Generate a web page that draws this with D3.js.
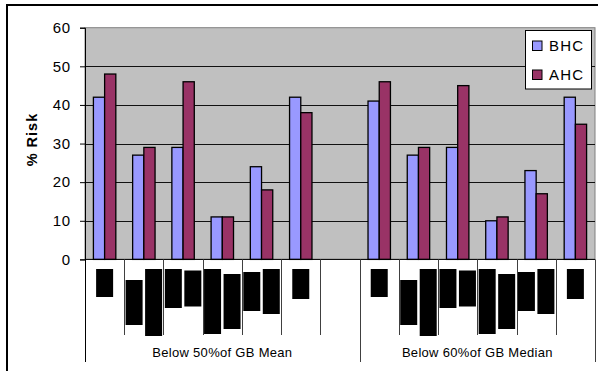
<!DOCTYPE html>
<html>
<head>
<meta charset="utf-8">
<script src="https://cdn.jsdelivr.net/npm/d3@7"></script>
<style>
  html, body { margin: 0; padding: 0; background: #fff; }
  svg { display: block; font-family: "Liberation Sans", Arial, sans-serif; }
</style>
</head>
<body>
<svg id="chart" width="598" height="371"></svg>
<script>
// ---- data ----
const series = ["BHC", "AHC"];
const groups = ["Below 50%of GB Mean", "Below 60%of GB Median"];
const categoryIds = ["c1", "c2", "c3", "c4", "c5", "c6"];
const bhcMean   = [42, 27, 29, 11, 24, 42];
const ahcMean   = [48, 29, 46, 11, 18, 38];
const bhcMedian = [41, 27, 29, 10, 23, 42];
const ahcMedian = [46, 29, 45, 11, 17, 35];
const yTicks = [0, 10, 20, 30, 40, 50, 60];
// obscured category labels (rendered as solid black blocks in the source): line lengths per label
const categoryLabelLines = [[28], [45, 67], [39, 36], [65, 55], [39, 45], [30]];

const colors = { BHC: "#9999FF", AHC: "#993366" };

// ---- layout ----
const svg = d3.select("#chart");
const plot = { left: 85, right: 595, top: 27.7, bottom: 259.4 };

// slots: group1 (6 cats) + blank + group2 (6 cats)
const slots = [];
categoryIds.forEach((c, i) => slots.push({ key: "g0-" + c, group: 0, ci: i }));
slots.push({ key: "blank", group: 0, ci: -1 });
categoryIds.forEach((c, i) => slots.push({ key: "g1-" + c, group: 1, ci: i }));

const values = [
  { BHC: bhcMean, AHC: ahcMean },
  { BHC: bhcMedian, AHC: ahcMedian }
];

const x0 = d3.scaleBand().domain(slots.map(s => s.key)).range([plot.left, plot.right]).padding(0);
const bw = x0.bandwidth();
const x1 = d3.scaleBand().domain(series).range([0, bw]).paddingOuter(0.75).paddingInner(0);
const y = d3.scaleLinear().domain([0, 60]).range([plot.bottom, plot.top]);

// outer chart border
svg.append("rect").attr("x", 7).attr("y", 5).attr("width", 620).attr("height", 400)
  .attr("fill", "#fff").attr("stroke", "#000").attr("stroke-width", 2);

// plot area
svg.append("rect").attr("x", plot.left).attr("y", plot.top)
  .attr("width", plot.right - plot.left).attr("height", plot.bottom - plot.top)
  .attr("fill", "#C0C0C0").attr("stroke", "#808080").attr("stroke-width", 1);

// gridlines
svg.append("g").selectAll("line").data(yTicks.filter(t => t > 0 && t < 60)).join("line")
  .attr("x1", plot.left).attr("x2", plot.right)
  .attr("y1", d => Math.round(y(d)) + 0.5).attr("y2", d => Math.round(y(d)) + 0.5)
  .attr("stroke", "#111").attr("stroke-width", 1);

// y axis
const yAxis = d3.axisLeft(y).tickValues(yTicks).tickSize(5).tickPadding(9);
const yg = svg.append("g").attr("transform", `translate(${plot.left},0)`).call(yAxis);
yg.select(".domain").attr("stroke", "#000");
yg.selectAll(".tick line").attr("stroke", "#000");
yg.selectAll(".tick text").attr("font-size", 15).attr("fill", "#000")
  .attr("letter-spacing", 0.8).attr("font-family", "'Liberation Sans', Arial, sans-serif");

// y title
svg.append("text")
  .attr("transform", `translate(37,${(plot.top + plot.bottom) / 2 - 4}) rotate(-90)`)
  .attr("text-anchor", "middle").attr("font-weight", "bold").attr("font-size", 14.5)
  .attr("letter-spacing", 1).text("% Risk");

// bars
const barData = [];
slots.forEach(s => {
  if (s.ci < 0) return;
  series.forEach(se => barData.push({ slot: s.key, series: se, value: values[s.group][se][s.ci] }));
});
svg.append("g").selectAll("rect").data(barData).join("rect")
  .attr("x", d => x0(d.slot) + x1(d.series))
  .attr("y", d => y(d.value))
  .attr("width", x1.bandwidth())
  .attr("height", d => y(0) - y(d.value))
  .attr("fill", d => colors[d.series])
  .attr("stroke", "#000").attr("stroke-width", 1.3);

// x axis line
svg.append("line").attr("x1", plot.left).attr("x2", plot.right)
  .attr("y1", plot.bottom).attr("y2", plot.bottom).attr("stroke", "#000");

// category tick lines (short) and group separators (long)
const boundaries = d3.range(slots.length + 1).map(i => plot.left + i * bw);
const groupBounds = [0, 7, 13];
svg.append("g").selectAll("line").data(boundaries.map((b, i) => ({ b, i }))).join("line")
  .attr("x1", d => Math.round(d.b) + 0.5).attr("x2", d => Math.round(d.b) + 0.5)
  .attr("y1", plot.bottom)
  .attr("y2", d => groupBounds.includes(d.i) ? 362 : 335)
  .attr("stroke", d => d.i === 0 ? "#000" : "#404040").attr("stroke-width", 1);

// obscured category labels (black blocks)
const blocks = [];
slots.forEach(s => {
  if (s.ci < 0) return;
  const lines = categoryLabelLines[s.ci];
  const maxLen = d3.max(lines);
  const cx = x0(s.key) + bw / 2;
  const cy = 269 + maxLen / 2;
  lines.forEach((len, li) => {
    const lx = cx + (li - (lines.length - 1) / 2) * 19.5;
    blocks.push({ x: lx - 8.5, y: cy - len / 2, w: 17, h: len });
  });
});
svg.append("g").selectAll("rect").data(blocks).join("rect")
  .attr("x", d => d.x).attr("y", d => d.y).attr("width", d => d.w).attr("height", d => d.h)
  .attr("fill", "#000");

// group labels
svg.append("g").selectAll("text").data(groups).join("text")
  .attr("x", (d, i) => (boundaries[groupBounds[i]] + boundaries[groupBounds[i + 1]]) / 2)
  .attr("y", 357)
  .attr("text-anchor", "middle").attr("font-size", 13).attr("fill", "#000")
  .attr("letter-spacing", 0.3)
  .text(d => d);

// legend
const lg = svg.append("g");
lg.append("rect").attr("x", 525.5).attr("y", 30.5).attr("width", 66).attr("height", 58.5)
  .attr("fill", "#fff").attr("stroke", "#000").attr("stroke-width", 1);
const li = lg.selectAll("g").data(series).join("g")
  .attr("transform", (d, i) => `translate(532.5,${41 + i * 29})`);
li.append("rect").attr("width", 9.5).attr("height", 9.5)
  .attr("fill", d => colors[d]).attr("stroke", "#000").attr("stroke-width", 1);
li.append("text").attr("x", 16.5).attr("y", 10).attr("font-size", 15)
  .attr("letter-spacing", 1.2).attr("fill", "#000").text(d => d);
</script>
</body>
</html>
